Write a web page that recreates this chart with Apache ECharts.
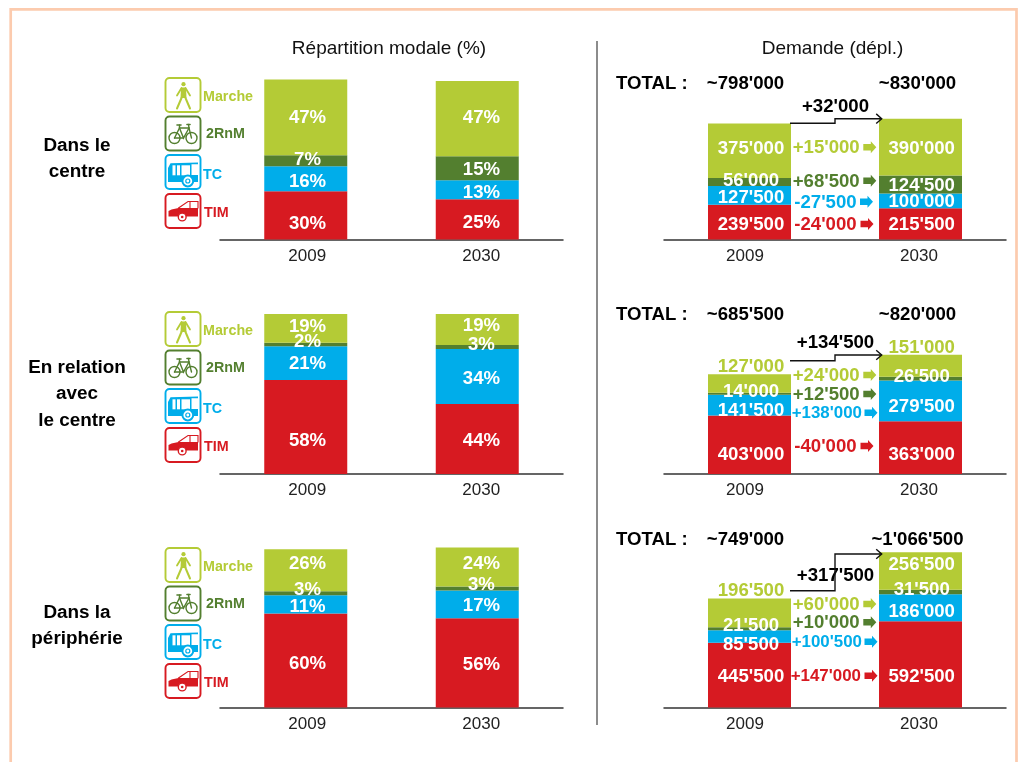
<!DOCTYPE html>
<html><head><meta charset="utf-8">
<style>html,body{margin:0;padding:0;background:#fff;overflow:hidden}#c{width:1019px;height:762px}</style>
<script src="https://cdn.jsdelivr.net/npm/echarts@6/dist/echarts.min.js"></script>
</head><body><div id="c"></div>
<script>
// ---------- data ----------
const categories = ['2009', '2030'];
const modes = ['TIM', 'TC', '2RnM', 'Marche'];            // bottom to top
const rowNames = [['Dans le', 'centre'], ['En relation', 'avec', 'le centre'], ['Dans la', 'périphérie']];

// modal share: bar heights (TIM, TC, 2RnM, Marche)
const shareCentre2009 = [30.2, 15.6, 6.9, 47.5];
const shareCentre2030 = [25.2, 11.9, 15.0, 46.9];
const shareRelation2009 = [58.8, 21.1, 2.1, 19.4];
const shareRelation2030 = [43.8, 34.4, 2.5, 19.4];
const sharePeriph2009 = [58.8, 11.3, 2.5, 26.3];
const sharePeriph2030 = [55.8, 17.3, 2.5, 24.4];
// modal share: printed labels
const pctCentre2009 = ['30%', '16%', '7%', '47%'];
const pctCentre2030 = ['25%', '13%', '15%', '47%'];
const pctRelation2009 = ['58%', '21%', '2%', '19%'];
const pctRelation2030 = ['44%', '34%', '3%', '19%'];
const pctPeriph2009 = ['60%', '11%', '3%', '26%'];
const pctPeriph2030 = ['56%', '17%', '3%', '24%'];
// trips per day (TIM, TC, 2RnM, Marche)
const tripsCentre2009 = [239500, 127500, 56000, 375000];
const tripsCentre2030 = [215500, 100000, 124500, 390000];
const tripsRelation2009 = [403000, 141500, 14000, 127000];
const tripsRelation2030 = [363000, 279500, 26500, 151000];
const tripsPeriph2009 = [445500, 85500, 21500, 196500];
const tripsPeriph2030 = [592500, 186000, 31500, 256500];
const totals = [["~798'000", "~830'000"], ["~685'500", "~820'000"], ["~749'000", "~1'066'500"]];
const totalDeltas = ["+32'000", "+134'500", "+317'500"];
const modeDeltas = [
  ["-24'000", "-27'500", "+68'500", "+15'000"],
  ["-40'000", "+138'000", "+12'500", "+24'000"],
  ["+147'000", "+100'500", "+10'000", "+60'000"]
];

// ---------- styles and layout ----------
const FONT = '"Liberation Sans", Arial, sans-serif';
const colors = { TIM: '#d71a21', TC: '#00adea', '2RnM': '#537f2f', Marche: '#b4cb36' };
const modeColors = modes.map(m => colors[m]);
const baselines = [239.5, 474, 707.5];
const GRID_H = 160;
const LABEL_NUDGE = 1.5;
const TEXT_NUDGE = 1;
// label centres wanted on the page, per row then per year
const pctLabelY = [
  [[222, 180.3, 158.3, 116.7], [221.7, 191, 168.7, 116.7]],
  [[439.7, 362.7, 340, 324], [439.7, 377.3, 343, 324]],
  [[662.7, 605.7, 588.7, 562.7], [663.7, 604.3, 583.3, 562.7]]
];
const tripLabelY = [
  [[223.3, 196.7, 179.3, 147.3], [223.3, 200.3, 184, 147.3]],
  [[453.7, 409.3, 390, 365.7], [453.7, 405.7, 375, 346.7]],
  [[675.3, 643, 624, 589.3], [675.3, 610.3, 588.3, 563.7]]
];
const limeOutside = [[false, false], [true, true], [true, false]];
const deltaLayout = [
  [{ y: 224, x: 794.3, ax: 860.5 }, { y: 201.7, x: 794.3, ax: 860 }, { y: 180.7, x: 792.7, ax: 863.3 }, { y: 147.3, x: 792.7, ax: 863.3 }],
  [{ y: 446, x: 794.3, ax: 860.5 }, { y: 412.7, x: 791.7, ax: 864.5, fs: 16.9 }, { y: 394, x: 792.7, ax: 863.3 }, { y: 375, x: 792.7, ax: 863.3 }],
  [{ y: 675.7, x: 790.7, ax: 864.5, fs: 16.9 }, { y: 641.7, x: 791.7, ax: 864.5, fs: 16.9 }, { y: 622.3, x: 792.7, ax: 863.3 }, { y: 604, x: 792.7, ax: 863.3 }]
];
const elbows = [
  [[790, 123.3], [835, 123.3], [835, 118.7], [881.7, 118.7]],
  [[790, 360.7], [835, 360.7], [835, 355], [881.7, 355]],
  [[790, 590.7], [835, 590.7], [835, 554], [881.7, 554]]
];
const totalY = [83, 314, 539];
const totalDeltaY = [105.7, 341.7, 575];
const rowLabelY = [[144.5, 170.5], [366.5, 393, 419.5], [611.5, 638]];
const legendDy = [0, 234, 470];

const shareRows = [[shareCentre2009, shareCentre2030], [shareRelation2009, shareRelation2030], [sharePeriph2009, sharePeriph2030]];
const pctRows = [[pctCentre2009, pctCentre2030], [pctRelation2009, pctRelation2030], [pctPeriph2009, pctPeriph2030]];
const tripRows = [[tripsCentre2009, tripsCentre2030], [tripsRelation2009, tripsRelation2030], [tripsPeriph2009, tripsPeriph2030]];
const fmtTrips = v => String(v).replace(/\B(?=(\d{3})+$)/g, "'");

const grids = [], xAxes = [], yAxes = [], series = [];
function addPanel(row, left, right, yMax, rows, textFn, targetY, dxs, yearPad) {
  const g = grids.length;
  const base = baselines[row];
  grids.push({ left, top: base - GRID_H, width: right - left, height: GRID_H });
  xAxes.push({
    gridIndex: g, type: 'category', data: categories,
    axisTick: { show: false },
    axisLine: { lineStyle: { color: '#333', width: 1.5 } },
    axisLabel: {
      margin: 8, color: '#222',
      formatter: v => '{y' + v + '|' + v + '}',
      rich: {
        y2009: { fontFamily: FONT, fontSize: 17, color: '#222', padding: yearPad[0] },
        y2030: { fontFamily: FONT, fontSize: 17, color: '#222', padding: yearPad[1] }
      }
    }
  });
  yAxes.push({ gridIndex: g, type: 'value', min: 0, max: yMax, show: false });
  modes.forEach((m, k) => {
    series.push({
      name: m + ' ' + row, type: 'bar', stack: 'p' + g, xAxisIndex: g, yAxisIndex: g,
      barWidth: 83, silent: true, animation: false,
      itemStyle: { color: colors[m] },
      label: { show: true, position: 'inside', fontFamily: FONT, fontWeight: 'bold', fontSize: 18.6, color: '#fff' },
      data: categories.map((c, yi) => {
        const vals = rows[row][yi];
        const below = vals.slice(0, k).reduce((a, b) => a + b, 0);
        const centre = base - (below + vals[k] / 2) * GRID_H / yMax;
        const isOutside = yMax > 1000 && k === 3 && limeOutside[row][yi];
        return {
          value: vals[k],
          label: {
            formatter: textFn(row, yi, k),
            offset: [dxs[yi], targetY[row][yi][k] + LABEL_NUDGE - centre],
            color: isOutside ? colors.Marche : '#fff'
          }
        };
      })
    });
  });
}
for (let r = 0; r < 3; r++) {
  addPanel(r, 220, 563, 100, shareRows, (a, b, k) => pctRows[a][b][k], pctLabelY, [1.8, 4.2], [[0, 0, 0, 3], [0, 0, 0, 8]]);
  addPanel(r, 664, 1006, 1100000, tripRows, (a, b, k) => fmtTrips(tripRows[a][b][k]), tripLabelY, [1.5, 1.2], [[0, 9, 0, 0], [0, 3, 0, 0]]);
}

// ---------- annotations ----------
const T = (text, x, y, size, weight, fill, align) => ({
  type: 'text', silent: true, z: 20,
  style: { text, x, y: y + TEXT_NUDGE, fontFamily: FONT, fontSize: size, fontWeight: weight || 'normal', fill: fill || '#111', textAlign: align || 'center', textVerticalAlign: 'middle' }
});
const graphic = [];
graphic.push({ type: 'rect', silent: true, shape: { x: 10.7, y: 9.4, width: 1005.8, height: 800 }, style: { fill: 'none', stroke: '#fccbae', lineWidth: 2.7 } });
graphic.push({ type: 'line', silent: true, shape: { x1: 597, y1: 41, x2: 597, y2: 725 }, style: { stroke: '#666', lineWidth: 1.5 } });
graphic.push(T('Répartition modale (%)', 389, 47.5, 19));
graphic.push(T('Demande (dépl.)', 832.5, 47.5, 19));

function blockArrow(x, y, c) {
  return { type: 'polygon', silent: true, z: 20, shape: { points: [[x, y - 3.2], [x + 7.5, y - 3.2], [x + 7.5, y - 6], [x + 13, y], [x + 7.5, y + 6], [x + 7.5, y + 3.2], [x, y + 3.2]] }, style: { fill: c } };
}
function icon(kind, x, y) {
  const c = colors[kind];
  const S = { stroke: c, fill: 'none', lineWidth: 1.4, lineCap: 'round' };
  const L = (pts, w) => ({ type: 'polyline', shape: { points: pts }, style: { ...S, lineWidth: w || 1.4 } });
  const C = (cx, cy, r, st) => ({ type: 'circle', shape: { cx, cy, r }, style: st });
  const P = (pts, fill) => ({ type: 'polygon', shape: { points: pts }, style: { fill: fill || c } });
  const R = (a, b, w, h) => ({ type: 'rect', shape: { x: a, y: b, width: w, height: h }, style: { fill: '#fff' } });
  const kids = [{ type: 'rect', shape: { x: 0, y: 0, width: 35, height: 34, r: 4 }, style: { fill: '#fff', stroke: c, lineWidth: 1.9 } }];
  if (kind === 'Marche') {
    kids.push(C(18, 6.2, 2.1, { fill: c }), P([[15.5, 9.5], [20.5, 9.5], [21, 20], [15, 20]]),
      L([[16, 10], [11.5, 17.5]], 1.8), L([[20, 10], [24.5, 17.5]], 1.8),
      L([[16, 20], [11.5, 30.5]], 2), L([[20, 20], [24.5, 30.5]], 2));
  } else if (kind === '2RnM') {
    kids.push(C(9, 21.5, 5.5, S), C(26, 21.5, 5.5, S),
      L([[9, 21.5], [14, 11.5], [23.5, 11.5], [26, 21.5]]), L([[14, 11.5], [18, 21.5], [23.5, 11.5]]), L([[9, 21.5], [18, 21.5]]),
      L([[11.5, 8.5], [15.5, 8.5]], 1.6), L([[14, 8.5], [14, 11.5]]), L([[21.5, 8], [24.5, 8]], 1.6), L([[23, 8], [23.5, 11.5]]));
  } else if (kind === 'TC') {
    kids.push(P([[2.5, 13], [5, 8.3], [32.5, 7.5], [32.5, 9.3], [26, 9.3], [26, 20], [32.5, 20], [32.5, 27], [2.5, 27]]),
      R(7, 10.3, 3, 10), R(11.5, 10.3, 3, 10), R(16, 10.3, 8.5, 10),
      C(22.3, 26, 5.4, { fill: '#fff', stroke: c, lineWidth: 2 }), C(22.3, 26, 2, { fill: '#fff', stroke: c, lineWidth: 1.2 }));
  } else {
    kids.push(P([[3, 22.5], [3, 17], [6, 15.5], [13, 14], [32.5, 14], [32.5, 22.5]]),
      L([[13, 14], [22.5, 7.5], [32.5, 7.5], [32.5, 14]], 1.1), L([[24.5, 7.5], [24.5, 14]], 1.1),
      C(16.7, 23, 3.9, { fill: '#fff', stroke: c, lineWidth: 1.4 }), C(16.7, 23, 1.3, { fill: c }));
  }
  return { type: 'group', silent: true, x, y, z: 20, children: kids };
}
const legendIconY = { Marche: 78, '2RnM': 116.5, TC: 155, TIM: 194 };
const legendText = { Marche: [203, 96], '2RnM': [206, 133], TC: [203, 174], TIM: [204, 212.5] };
for (let r = 0; r < 3; r++) {
  rowNames[r].forEach((s, i) => graphic.push(T(s, 77, rowLabelY[r][i], 18.9, 'bold', '#000')));
  modes.forEach(m => {
    graphic.push(icon(m, 165.5, legendIconY[m] + legendDy[r]));
    graphic.push(T(m, legendText[m][0], legendText[m][1] + legendDy[r], 14.3, 'bold', colors[m], 'left'));
  });
  graphic.push(T('TOTAL :', 616, totalY[r], 18.6, 'bold', '#000', 'left'));
  graphic.push(T(totals[r][0], 745.5, totalY[r], 18.6, 'bold', '#000'));
  graphic.push(T(totals[r][1], 917.5, totalY[r], 18.6, 'bold', '#000'));
  graphic.push(T(totalDeltas[r], 835.5, totalDeltaY[r], 18.6, 'bold', '#000'));
  modeDeltas[r].forEach((s, k) => {
    const d = deltaLayout[r][k];
    graphic.push(T(s, d.x, d.y, d.fs || 18.6, 'bold', modeColors[k], 'left'));
    graphic.push(blockArrow(d.ax, d.y, modeColors[k]));
  });
  const e = elbows[r], tip = e[3];
  graphic.push({ type: 'polyline', silent: true, z: 20, shape: { points: e }, style: { stroke: '#111', fill: 'none', lineWidth: 1.4 } });
  graphic.push({ type: 'polyline', silent: true, z: 20, shape: { points: [[tip[0] - 5.5, tip[1] - 4.8], [tip[0], tip[1]], [tip[0] - 5.5, tip[1] + 4.8]] }, style: { stroke: '#111', fill: 'none', lineWidth: 1.4 } });
}

const chart = echarts.init(document.getElementById('c'), null, { renderer: 'canvas' });
chart.setOption({
  backgroundColor: '#fff', animation: false,
  grid: grids, xAxis: xAxes, yAxis: yAxes, series, graphic
});
</script></body></html>
